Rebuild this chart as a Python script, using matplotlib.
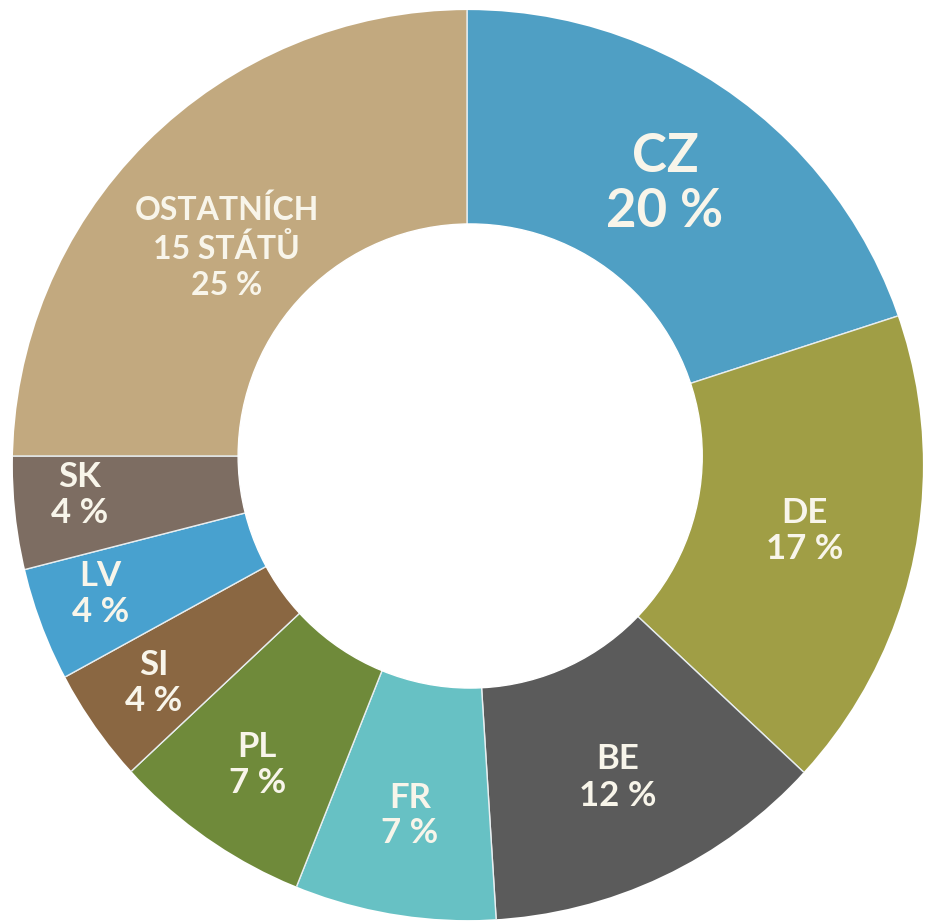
import matplotlib
matplotlib.use("Agg")
import numpy as np
import matplotlib.pyplot as plt

# ---------- DATA ----------
zeme = ["CZ", "DE", "BE", "FR", "PL", "SI", "LV", "SK", "OSTATNÍCH\n15 STÁTŮ"]
podil = [20, 17, 12, 7, 7, 4, 4, 4, 25]
barvy = ["#4f9fc4", "#a09e45", "#5b5b5b", "#67c1c4", "#6f8a3a",
         "#8a6742", "#48a1cf", "#7d6d62", "#c2a97f"]

# ---------- STYLE ----------
plt.rcParams['font.family'] = ['Lato', 'DejaVu Sans']
label_r = [0.74, 0.76, 0.78, 0.80, 0.82, 0.85, 0.86, 0.855, 0.70]
posun_uhlu = [0, 0, 0, 0, 0, 0, -1, -1.5, 4]
velikost = [38, 25, 25, 25, 25, 25, 25, 25, 23]
radkovani = [1.15, 1.15, 1.2, 1.15, 1.15, 1.15, 1.15, 1.15, 1.3]
barva_textu = "#f8f5ea"

fig = plt.figure(figsize=(9.26, 9.24), dpi=100)
ax = fig.add_axes([0, 0, 1, 1])

wedges, _ = ax.pie(podil, colors=barvy, startangle=90, counterclock=False,
                   radius=1.08, wedgeprops=dict(edgecolor="#e8eef0", linewidth=1))

ax.set_xlim(-467 / 455, (926 - 467) / 455)
ax.set_ylim(-(924 - 456) / 455, 456 / 455)
ax.set_aspect("auto")
ax.axis("off")

# vnejsi okraj (mirne posunuty stred) a bily otvor
okraj = plt.Circle((0.002, -0.02), 1.0, facecolor="none", edgecolor="none")
ax.add_patch(okraj)
for w in wedges:
    w.set_clip_on(True)
    w.set_clip_path(okraj)
ax.add_patch(plt.Circle((0.007, 0.0), 0.51, color="white", zorder=3))

for i, w in enumerate(wedges):
    ang = np.deg2rad((w.theta1 + w.theta2) / 2 + posun_uhlu[i])
    x, y = label_r[i] * np.cos(ang), label_r[i] * np.sin(ang)
    ax.text(x, y, f"{zeme[i]}\n{podil[i]} %", ha="center", va="center", zorder=4,
            fontsize=velikost[i], fontweight="bold", color=barva_textu,
            linespacing=radkovani[i])

fig.savefig("out.png", dpi=100)
